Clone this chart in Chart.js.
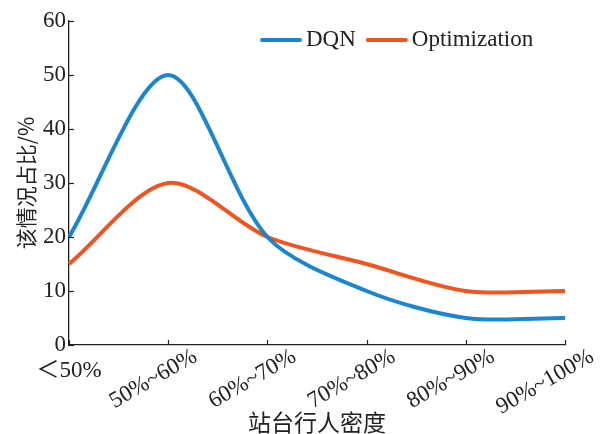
<!DOCTYPE html>
<html><head><meta charset="utf-8">
<script src="https://cdn.jsdelivr.net/npm/chart.js@4"></script>
<style>html,body{margin:0;padding:0;background:#fff}#wrap{width:601px;height:434px}</style>
</head><body><div id="wrap"><canvas id="c" width="601" height="434"></canvas></div>
<script>
const categories = ['＜50%', '50%~60%', '60%~70%', '70%~80%', '80%~90%', '90%~100%'];
const dqnValues = [20, 50, 20, 10, 5, 5];
const optValues = [15, 30, 20, 15, 10, 10];
const seriesNames = ['DQN', 'Optimization'];
const seriesColors = ['#1a85d0', '#f2541f'];
const yTitle = '该情况占比/%';
const xTitle = '站台行人密度';

const SERIF = '"Liberation Serif", "Times New Roman", serif';
const CJK = '"Noto Sans CJK SC", sans-serif';
const AX = '#222';

const decor = {
  id: 'decor',
  afterDraw(chart) {
    const ctx = chart.ctx, ca = chart.chartArea;
    const xs = chart.scales.x, ys = chart.scales.y;
    ctx.save();
    // inward ticks
    ctx.strokeStyle = AX; ctx.lineWidth = 1.2;
    ys.ticks.forEach((t, i) => {
      const y = Math.round(ys.getPixelForTick(i)) + 0.5;
      ctx.beginPath(); ctx.moveTo(ca.left, y); ctx.lineTo(ca.left + 5, y); ctx.stroke();
    });
    categories.forEach((c, i) => {
      const x = Math.round(xs.getPixelForValue(i)) + 0.5;
      ctx.beginPath(); ctx.moveTo(x, ca.bottom); ctx.lineTo(x, ca.bottom - 5); ctx.stroke();
    });
    // x tick labels
    ctx.fillStyle = AX;
    categories.forEach((c, i) => {
      const x = xs.getPixelForValue(i);
      if (i === 0) {
        ctx.font = '23px ' + SERIF + ', ' + CJK;
        ctx.textAlign = 'center'; ctx.textBaseline = 'middle';
        ctx.fillText(c, x, ca.bottom + 26);
      } else {
        ctx.font = '23px ' + SERIF;
        ctx.save();
        ctx.translate(x + 27, ca.bottom + 10);
        ctx.rotate(-Math.PI / 6);
        ctx.textAlign = 'right'; ctx.textBaseline = 'middle';
        ctx.fillText(c, 0, 0);
        ctx.restore();
      }
    });
    // legend
    ctx.font = '23px ' + SERIF;
    let lx = ca.left + 193; const ly = ca.top + 19;
    ctx.textAlign = 'left'; ctx.textBaseline = 'middle';
    chart.data.datasets.forEach((ds, i) => {
      ctx.strokeStyle = ds.borderColor; ctx.lineWidth = 4; ctx.lineCap = 'round';
      ctx.beginPath(); ctx.moveTo(lx, ly); ctx.lineTo(lx + 38, ly); ctx.stroke();
      ctx.fillStyle = AX;
      ctx.fillText(ds.label, lx + 44, ly);
      lx += 44 + ctx.measureText(ds.label).width + 12;
    });
    ctx.restore();
  }
};

new Chart(document.getElementById('c'), {
  type: 'line',
  data: {
    labels: categories,
    datasets: [
      { label: seriesNames[0], data: dqnValues, borderColor: seriesColors[0], backgroundColor: seriesColors[0], borderWidth: 4, pointRadius: 0, tension: 0.3, fill: false },
      { label: seriesNames[1], data: optValues, borderColor: seriesColors[1], backgroundColor: seriesColors[1], borderWidth: 4, pointRadius: 0, tension: 0.3, fill: false }
    ]
  },
  options: {
    responsive: false, animation: false, devicePixelRatio: 1,
    layout: { padding: { top: 21, right: 36, left: 0, bottom: 0 } },
    plugins: { legend: { display: false }, tooltip: { enabled: false } },
    scales: {
      x: {
        type: 'category', offset: false,
        grid: { display: false, drawTicks: false },
        border: { display: true, color: AX, width: 1.3 },
        ticks: { display: false },
        title: { display: true, text: xTitle, color: AX, font: { family: CJK, size: 23, lineHeight: 1 }, padding: { top: 0, bottom: 0 } },
        afterFit: s => { s.height = 89; }
      },
      y: {
        min: 0, max: 60,
        grid: { display: false, drawTicks: false },
        border: { display: true, color: AX, width: 1.3 },
        ticks: { stepSize: 10, color: AX, font: { family: SERIF, size: 23 }, padding: 3 },
        title: { display: true, text: yTitle, color: AX, font: { family: CJK, size: 21, lineHeight: 1.2 }, padding: { top: 13, bottom: 0 } },
        afterFit: s => { s.width = 69; }
      }
    }
  },
  plugins: [decor]
});
</script>
</body></html>
